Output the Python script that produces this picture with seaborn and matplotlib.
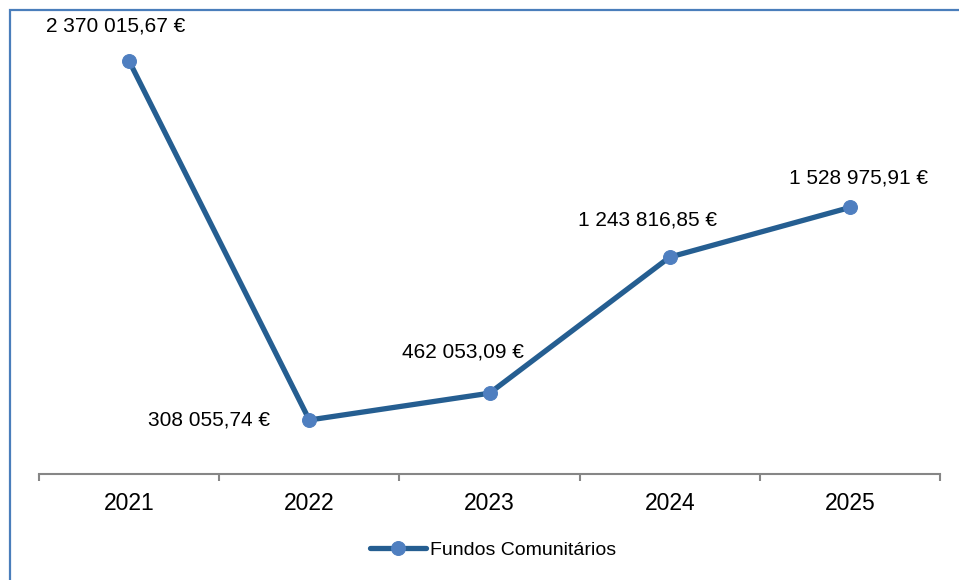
import matplotlib.pyplot as plt
import matplotlib.patches as mpatches
import pandas as pd
import seaborn as sns

years = ["2021", "2022", "2023", "2024", "2025"]
values = [2370015.67, 308055.74, 462053.09, 1243816.85, 1528975.91]
series_name = "Fundos Comunitários"

# label offsets (points) relative to each marker
label_offsets = [(-10, 25), (-28, 0), (-19, 29.5), (-16, 27), (6, 21)]
label_ha = ["center", "right", "center", "center", "center"]


def fmt_eur(v):
    return f"{v:,.2f}".replace(",", " ").replace(".", ",") + " €"


sns.set_theme(style="white")
plt.rcParams["font.family"] = ["Liberation Sans", "DejaVu Sans"]
plt.rcParams["text.color"] = "black"
plt.rcParams["xtick.color"] = "black"

df = pd.DataFrame({"year": years, "value": values})

fig = plt.figure(figsize=(9.59, 5.8), dpi=100)
ax = fig.add_axes([0.0407, 0.1834, 0.9395, 0.7503])

line_color = "#255e91"
marker_color = "#4f7fc0"
sns.lineplot(
    data=df, x="year", y="value", ax=ax, color=line_color, linewidth=3.8,
    marker="o", markersize=10, markerfacecolor=marker_color,
    markeredgecolor=marker_color, label=series_name, sort=False,
)

ax.set_xlim(-0.5, len(years) - 0.5)
ax.set_ylim(0, 2500000)
ax.set_xlabel("")
ax.set_ylabel("")
ax.set_yticks([])

# tick marks between categories, labels at category centres
ax.set_xticks([i - 0.5 for i in range(len(years) + 1)])
ax.set_xticklabels([])
ax.set_xticks(range(len(years)), minor=True)
ax.set_xticklabels(years, minor=True, fontsize=16.5, color="black")
ax.tick_params(axis="x", which="major", direction="out", length=5,
               width=1.5, color="#868686", bottom=True)
ax.tick_params(axis="x", which="minor", length=0, pad=13, bottom=True,
               labelcolor="black")

for side in ["top", "right", "left"]:
    ax.spines[side].set_visible(False)
ax.spines["bottom"].set_color("#868686")
ax.spines["bottom"].set_linewidth(1.5)

for i, v in enumerate(values):
    ax.annotate(fmt_eur(v), xy=(i, v), xytext=label_offsets[i],
                textcoords="offset points", ha=label_ha[i], va="center",
                fontsize=15, color="black", annotation_clip=False)

leg = ax.legend(loc="center", bbox_to_anchor=(0.514, 0.052),
                bbox_transform=fig.transFigure, frameon=False, fontsize=14,
                handlelength=2.9, handletextpad=0.2, labelcolor="black")

# outer chart border (extends past the right and bottom image edges)
border = mpatches.Rectangle((10 / 959, -0.1), 2.0, 0.9828 + 0.1,
                            transform=fig.transFigure, fill=False,
                            edgecolor="#4a7ebb", linewidth=1.6)
fig.patches.append(border)

fig.savefig("out.png", dpi=100)
plt.close(fig)
